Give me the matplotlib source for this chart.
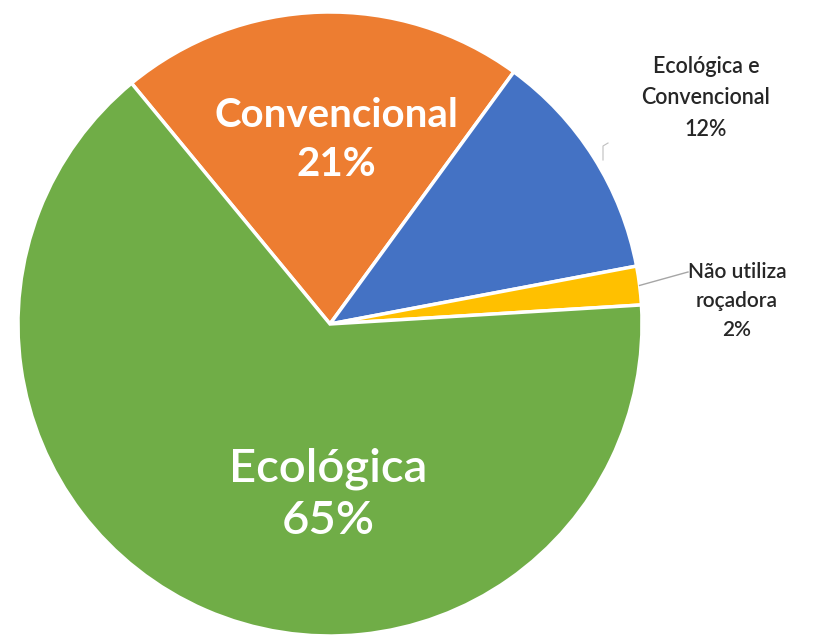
import numpy as np
import matplotlib.pyplot as plt

labels = ["Convencional", "Ecológica e\nConvencional", "Não utiliza\nroçadora", "Ecológica"]
values = [21, 12, 2, 65]
colors = ["#ED7D31", "#4472C4", "#FFC000", "#70AD47"]

W, H = 831, 639
fig = plt.figure(figsize=(W / 100, H / 100), dpi=100)
ax = fig.add_axes([0, 0, 1, 1])

cx, cy, r = 330, H - 324, 312
wedges, _ = ax.pie(values, colors=colors, startangle=129.5, counterclock=False,
                   center=(cx, cy), radius=r, frame=True,
                   wedgeprops=dict(edgecolor="white", linewidth=2.5))
ax.set_xlim(0, W)
ax.set_ylim(0, H)
ax.set_aspect("equal")
ax.axis("off")

font = "Lato"
pct = [f"{v}%" for v in values]

# labels inside the two big slices
ax.text(336, H - 140, f"{labels[0]}\n{pct[0]}", color="white", fontsize=29,
        fontweight="bold", family=font, ha="center", va="center", linespacing=1.4)
ax.text(328, H - 495, f"{labels[3]}\n{pct[3]}", color="white", fontsize=34,
        fontweight="semibold", family=font, ha="center", va="center", linespacing=1.3)

# outside labels with short leader lines
ax.text(706, H - 98, f"{labels[1]}\n{pct[1]}", color="#262626", fontsize=15.5,
        fontweight="semibold", family=font, ha="center", va="center", linespacing=1.6)
ax.plot([603, 603, 608], [H - 160, H - 146, H - 143], color="#BFBFBF", lw=0.8)

w = wedges[2]
mid = np.deg2rad((w.theta1 + w.theta2) / 2)
ex, ey = cx + r * np.cos(mid), cy + r * np.sin(mid)
ax.plot([ex, 688], [ey, H - 272], color="#A6A6A6", lw=1)
ax.text(737, H - 301, f"{labels[2]}\n{pct[2]}", color="#262626", fontsize=15,
        fontweight="semibold", family=font, ha="center", va="center", linespacing=1.55)

fig.savefig("out.png", dpi=100, facecolor="white")
